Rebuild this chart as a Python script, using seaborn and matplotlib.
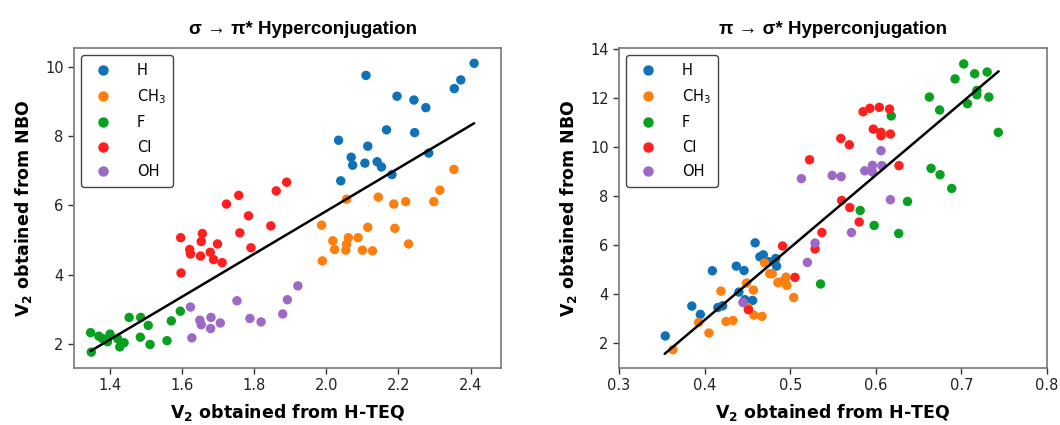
import numpy as np
import pandas as pd
import seaborn as sns
import matplotlib.pyplot as plt

# ---- data ----
groups = ["H", "CH3", "F", "Cl", "OH"]
labels = {"H": "H", "CH3": "CH$_3$", "F": "F", "Cl": "Cl", "OH": "OH"}
colors = {"H": "#0f72b8", "CH3": "#ff7f0e", "F": "#08a020", "Cl": "#ff1f1f", "OH": "#9e68c6"}

# left panel: sigma -> pi*
l_h_x = [2.110, 2.410, 2.373, 2.355, 2.196, 2.243, 2.276, 2.167, 2.245, 2.034,
         2.115, 2.284, 2.069, 2.073, 2.107, 2.141, 2.153, 2.182, 2.040]
l_h_y = [9.75, 10.10, 9.62, 9.37, 9.15, 9.04, 8.82, 8.18, 8.10, 7.88,
         7.71, 7.51, 7.39, 7.16, 7.22, 7.26, 7.11, 6.89, 6.71]
l_ch3_x = [2.354, 2.315, 2.056, 2.144, 2.187, 2.220, 2.298, 1.987, 2.018, 2.061,
           2.088, 2.115, 2.190, 2.056, 2.023, 2.054, 2.100, 2.128, 2.228, 1.989]
l_ch3_y = [7.04, 6.44, 6.18, 6.24, 6.04, 6.11, 6.11, 5.43, 4.98, 5.07,
           5.07, 5.37, 5.34, 4.88, 4.73, 4.71, 4.71, 4.69, 4.89, 4.40]
l_f_x = [1.595, 1.570, 1.453, 1.485, 1.506, 1.346, 1.369, 1.400, 1.393, 1.421,
         1.439, 1.427, 1.484, 1.511, 1.558, 1.348, 1.379]
l_f_y = [2.95, 2.67, 2.77, 2.77, 2.54, 2.33, 2.23, 2.29, 2.07, 2.16,
         2.04, 1.92, 2.20, 1.99, 2.10, 1.77, 2.16]
l_cl_x = [1.723, 1.757, 1.861, 1.890, 1.784, 1.846, 1.596, 1.656, 1.653, 1.760,
          1.698, 1.791, 1.621, 1.623, 1.651, 1.678, 1.687, 1.711, 1.597]
l_cl_y = [6.04, 6.29, 6.42, 6.67, 5.70, 5.41, 5.07, 5.19, 4.96, 5.21,
          4.89, 4.78, 4.73, 4.60, 4.54, 4.65, 4.44, 4.35, 4.05]
l_oh_x = [1.623, 1.752, 1.892, 1.921, 1.879, 1.788, 1.819, 1.649, 1.653, 1.680,
          1.679, 1.706, 1.627]
l_oh_y = [3.07, 3.25, 3.28, 3.68, 2.87, 2.74, 2.64, 2.69, 2.56, 2.77,
          2.45, 2.61, 2.18]
l_fit_x = [1.346, 2.410]
l_fit_y = [1.80, 8.37]

# right panel: pi -> sigma*
r_h_x = [0.354, 0.385, 0.395, 0.409, 0.4155, 0.421, 0.437, 0.446, 0.440, 0.447,
         0.456, 0.459, 0.4645, 0.4685, 0.475, 0.483, 0.484]
r_h_y = [2.29, 3.51, 3.17, 4.95, 3.45, 3.52, 5.14, 4.96, 4.08, 3.77,
         3.74, 6.09, 5.52, 5.60, 5.32, 5.45, 5.14]
r_ch3_x = [0.363, 0.393, 0.405, 0.419, 0.425, 0.433, 0.449, 0.457, 0.451, 0.4575,
           0.467, 0.470, 0.476, 0.479, 0.4855, 0.4895, 0.495, 0.496, 0.504]
r_ch3_y = [1.73, 2.84, 2.41, 4.12, 2.88, 2.92, 4.45, 4.16, 3.44, 3.14,
           3.09, 5.27, 4.83, 4.83, 4.47, 4.50, 4.69, 4.35, 3.86]
r_f_x = [0.7026, 0.7154, 0.730, 0.6925, 0.718, 0.718, 0.732, 0.707, 0.6625, 0.6745,
         0.618, 0.743, 0.6645, 0.675, 0.6886, 0.637, 0.5817, 0.598, 0.6267, 0.5354]
r_f_y = [13.39, 12.99, 13.06, 12.78, 12.31, 12.13, 12.04, 11.77, 12.04, 11.51,
         11.27, 10.60, 9.13, 8.87, 8.31, 7.78, 7.41, 6.80, 6.47, 4.41]
r_cl_x = [0.491, 0.5055, 0.451, 0.537, 0.529, 0.5225, 0.585, 0.593, 0.604, 0.616,
          0.597, 0.606, 0.606, 0.617, 0.559, 0.569, 0.627, 0.560, 0.5695, 0.5805]
r_cl_y = [5.96, 4.68, 3.36, 6.51, 5.84, 9.48, 11.44, 11.58, 11.62, 11.55,
          10.73, 10.60, 10.46, 10.53, 10.35, 10.09, 9.24, 7.82, 7.53, 6.94]
r_oh_x = [0.4447, 0.520, 0.529, 0.513, 0.606, 0.596, 0.607, 0.587, 0.596, 0.549,
          0.5595, 0.617, 0.5715]
r_oh_y = [3.66, 5.29, 6.08, 8.71, 9.85, 9.25, 9.24, 9.03, 8.98, 8.84,
          8.79, 7.85, 6.51]
r_fit_x = [0.3533, 0.7434]
r_fit_y = [1.56, 13.09]


def make_df(xs, ys):
    rows = []
    for g, x, y in zip(groups, xs, ys):
        rows += [(g, a, b) for a, b in zip(x, y)]
    return pd.DataFrame(rows, columns=["group", "x", "y"])


left = make_df([l_h_x, l_ch3_x, l_f_x, l_cl_x, l_oh_x],
               [l_h_y, l_ch3_y, l_f_y, l_cl_y, l_oh_y])
right = make_df([r_h_x, r_ch3_x, r_f_x, r_cl_x, r_oh_x],
                [r_h_y, r_ch3_y, r_f_y, r_cl_y, r_oh_y])

sns.set_style("ticks", {"text.color": "black", "axes.labelcolor": "black",
                        "xtick.color": "#333333", "ytick.color": "#333333"})
plt.rcParams["font.family"] = ["DejaVu Sans"]
plt.rcParams["mathtext.fontset"] = "dejavusans"

fig = plt.figure(figsize=(10.6, 4.25), dpi=100)
ax1 = fig.add_axes([0.0698, 0.134, 0.403, 0.753])
ax2 = fig.add_axes([0.584, 0.134, 0.4038, 0.753])

panels = [
    (ax1, left, l_fit_x, l_fit_y, "σ → π* Hyperconjugation", 0.535, (1.30, 2.485), (1.31, 10.54),
     [1.4, 1.6, 1.8, 2.0, 2.2, 2.4], [2, 4, 6, 8, 10]),
    (ax2, right, r_fit_x, r_fit_y, "π → σ* Hyperconjugation", 0.5, (0.3, 0.8), (0.98, 14.04),
     [0.3, 0.4, 0.5, 0.6, 0.7, 0.8], [2, 4, 6, 8, 10, 12, 14]),
]

for ax, df, fx, fy, title, tx, xl, yl, xt, yt in panels:
    sns.scatterplot(data=df, x="x", y="y", hue="group", hue_order=groups,
                    palette=colors, s=46, linewidth=0, ax=ax, legend=False, zorder=2)
    ax.plot(fx, fy, color="black", lw=1.8, zorder=3)
    ax.set_xlim(*xl)
    ax.set_ylim(*yl)
    ax.set_xticks(xt)
    ax.set_yticks(yt)
    ax.set_xticklabels([f"{v:.1f}" for v in xt])
    ax.tick_params(labelsize=10.5, length=4, width=1, labelcolor="#222222")
    for sp in ax.spines.values():
        sp.set_color("#777777")
        sp.set_linewidth(1.2)
    ax.set_xlabel(r"V$_\mathbf{2}$ obtained from H-TEQ", fontsize=12.5, fontweight="bold", labelpad=6)
    ax.set_ylabel(r"V$_\mathbf{2}$ obtained from NBO", fontsize=12.5, fontweight="bold", labelpad=8)
    ax.set_title(title, fontsize=13.5, fontweight="bold", pad=10, x=tx, color="black",
                 family=["Liberation Sans", "DejaVu Sans"])
    handles = [plt.Line2D([], [], ls="", marker="o", ms=6.5, color=colors[g]) for g in groups]
    leg = ax.legend(handles, [labels[g] for g in groups], loc="upper left", fontsize=10.5,
                    handletextpad=1.3, labelspacing=0.65, borderpad=0.5,
                    frameon=True, edgecolor="#444444", fancybox=True, framealpha=1)
    for t in leg.get_texts():
        t.set_color("black")

fig.savefig("out.png", dpi=100)
